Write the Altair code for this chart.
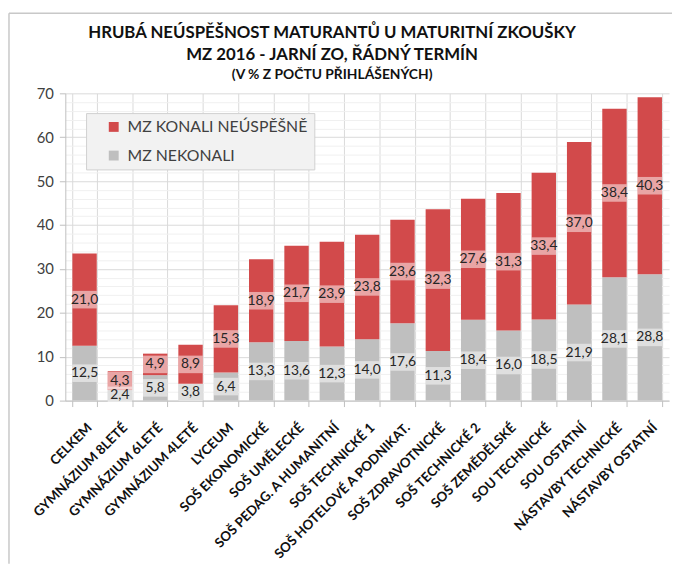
import altair as alt
import pandas as pd

categories = [
    "CELKEM", "GYMNÁZIUM 8LETÉ", "GYMNÁZIUM 6LETÉ", "GYMNÁZIUM 4LETÉ", "LYCEUM",
    "SOŠ EKONOMICKÉ", "SOŠ UMĚLECKÉ", "SOŠ PEDAG. A HUMANITNÍ", "SOŠ TECHNICKÉ 1",
    "SOŠ HOTELOVÉ A PODNIKAT.", "SOŠ ZDRAVOTNICKÉ", "SOŠ TECHNICKÉ 2", "SOŠ ZEMĚDĚLSKÉ",
    "SOU TECHNICKÉ", "SOU OSTATNÍ", "NÁSTAVBY TECHNICKÉ", "NÁSTAVBY OSTATNÍ",
]
nekonali = [12.5, 2.4, 5.8, 3.8, 6.4, 13.3, 13.6, 12.3, 14.0, 17.6, 11.3, 18.4, 16.0, 18.5, 21.9, 28.1, 28.8]
neuspesne = [21.0, 4.3, 4.9, 8.9, 15.3, 18.9, 21.7, 23.9, 23.8, 23.6, 32.3, 27.6, 31.3, 33.4, 37.0, 38.4, 40.3]
series_names = ["MZ KONALI NEÚSPĚŠNĚ", "MZ NEKONALI"]
series_colors = ["#d24a4b", "#bfbfbf"]
title_lines = ["HRUBÁ NEÚSPĚŠNOST MATURANTŮ U MATURITNÍ ZKOUŠKY", "MZ 2016 - JARNÍ ZO, ŘÁDNÝ TERMÍN"]
subtitle_text = "(V % Z POČTU PŘIHLÁŠENÝCH)"

rows = []
for c, g, r in zip(categories, nekonali, neuspesne):
    rows.append({"cat": c, "series": series_names[1], "value": g, "order": 0})
    rows.append({"cat": c, "series": series_names[0], "value": r, "order": 1})
df = pd.DataFrame(rows)
df["label"] = df["value"].map(lambda v: f"{v:.1f}".replace(".", ","))

FONT = "Lato"
W, H = 611, 311

base = alt.Chart(df).transform_stack(
    stack="value", groupby=["cat"], as_=["y0", "y1"],
    sort=[alt.SortField("order", "ascending")],
).transform_calculate(
    mid="(datum.y0 + datum.y1) / 2",
    lo="(datum.y0 + datum.y1) / 2 - 2",
    hi="(datum.y0 + datum.y1) / 2 + 2",
)

xscale = alt.Scale(paddingInner=0.31, paddingOuter=0.2)
yscale = alt.Scale(domain=[0, 70], nice=False)

major = "datum.value % 10 === 0"
x_axis = alt.Axis(
    title=None, labelAngle=-45, labelFontSize=13.5, labelFontWeight="bold",
    labelColor="#111111", labelFont=FONT, tickBand="extent", grid=True,
    gridColor="#d9d9d9", tickColor="#bfbfbf", tickSize=6, domainColor="#bfbfbf",
    labelPadding=14, labelLimit=300,
)
y_axis = alt.Axis(
    title=None, values=list(range(0, 71, 2)),
    labelExpr=f"{major} ? datum.label : ''",
    gridColor={"condition": {"test": major, "value": "#d9d9d9"}, "value": "#f0f0f0"},
    tickColor={"condition": {"test": major, "value": "#bfbfbf"}, "value": "transparent"},
    tickSize=6, domainColor="#bfbfbf", labelFontSize=15, labelColor="#404040",
    labelPadding=6, labelFont=FONT,
)

X = alt.X("cat:N", sort=categories, scale=xscale, axis=x_axis)

bars = base.mark_bar().encode(
    x=X,
    y=alt.Y("y0:Q", scale=yscale, axis=y_axis),
    y2="y1:Q",
    color=alt.Color(
        "series:N",
        scale=alt.Scale(domain=series_names, range=series_colors),
        legend=alt.Legend(
            orient="none", legendX=21, legendY=20, title=None, symbolType="square",
            symbolSize=100, labelFontSize=16, labelColor="#404040", labelFont=FONT,
            fillColor="#f2f2f2", strokeColor="#d0d0d0", padding=6, rowPadding=13,
            symbolStrokeWidth=0, labelOffset=6, labelLimit=400, symbolOffset=14,
            labelExpr="datum.label + '\u00a0\u00a0\u00a0\u00a0\u00a0'",
        ),
    ),
)

boxes = base.mark_bar(color="white", opacity=0.5).encode(
    x=X,
    y=alt.Y("lo:Q", scale=yscale, axis=y_axis),
    y2="hi:Q",
)

labels = base.mark_text(fontSize=14, font=FONT, color="#262626").encode(
    x=X,
    y=alt.Y("mid:Q", scale=yscale, axis=y_axis),
    text="label:N",
)

one = pd.DataFrame({"k": [0]})
border_left = alt.Chart(one).mark_rule(color="#c8c8c8", strokeWidth=1.5).encode(
    x=alt.value(-57), y=alt.value(-81), y2=alt.value(H + 165)
)
border_top = alt.Chart(one).mark_rule(color="#c8c8c8", strokeWidth=1.5).encode(
    x=alt.value(-57), x2=alt.value(W + 10), y=alt.value(-81)
)

t1 = pd.DataFrame({"t": [title_lines[0]]})
t2 = pd.DataFrame({"t": [title_lines[1]]})
t3 = pd.DataFrame({"t": [subtitle_text]})
title1 = alt.Chart(t1).mark_text(fontSize=17, fontWeight="bold", font=FONT, color="#111111").encode(
    x=alt.value(270), y=alt.value(-61), text="t:N")
title2 = alt.Chart(t2).mark_text(fontSize=17, fontWeight="bold", font=FONT, color="#111111").encode(
    x=alt.value(270), y=alt.value(-39), text="t:N")
title3 = alt.Chart(t3).mark_text(fontSize=14, fontWeight="bold", font=FONT, color="#111111").encode(
    x=alt.value(270), y=alt.value(-18), text="t:N")

chart = alt.layer(bars, boxes, labels, border_left, border_top, title1, title2, title3).properties(
    width=W, height=H,
    autosize=alt.AutoSizeParams(type="none"),
    padding={"left": 58, "top": 83, "right": 3, "bottom": 162},
).configure_view(stroke=None)

chart.save("out.html", embed_options={"renderer": "svg", "actions": False})
